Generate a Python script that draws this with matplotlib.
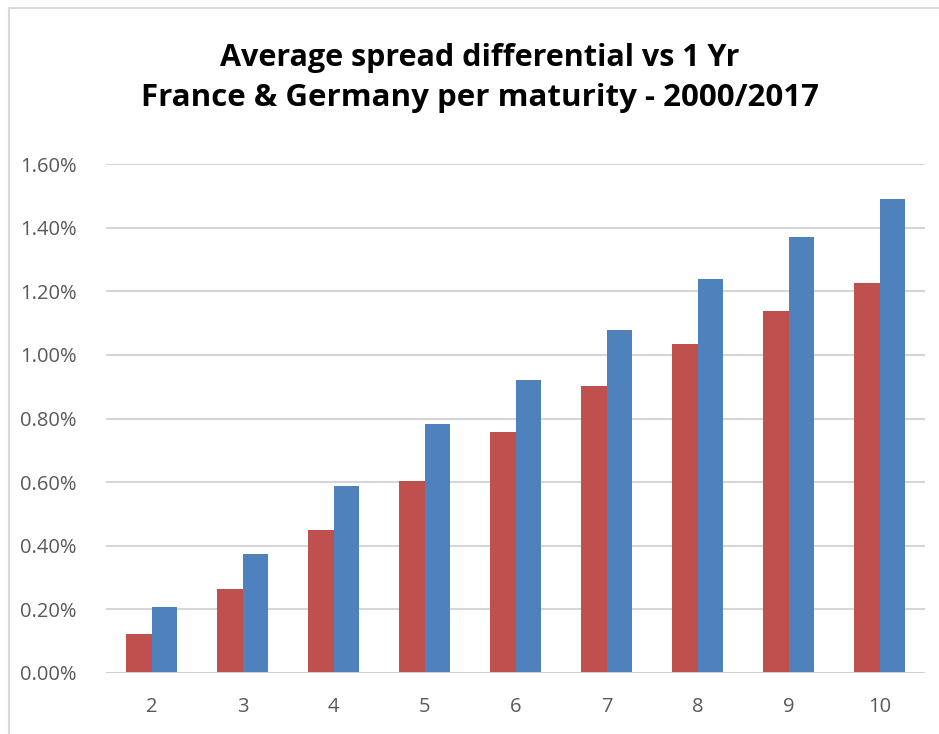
import matplotlib.pyplot as plt
import numpy as np
from matplotlib.patches import Rectangle

# Chart values (average spread vs 1 Yr, in %)
maturities = ["2", "3", "4", "5", "6", "7", "8", "9", "10"]
france = [0.122, 0.263, 0.449, 0.603, 0.758, 0.903, 1.034, 1.138, 1.225]
germany = [0.207, 0.373, 0.589, 0.782, 0.920, 1.079, 1.237, 1.371, 1.490]
yticks = [0.0, 0.2, 0.4, 0.6, 0.8, 1.0, 1.2, 1.4, 1.6]

plt.rcParams["font.family"] = ["Open Sans", "DejaVu Sans"]

fig = plt.figure(figsize=(9.39, 7.34), dpi=100)

# chart area border (left and top visible, rest cut off)
fig.patches.append(Rectangle((9 / 939, -0.05), 1.2, (734 - 8) / 734 + 0.05,
                             transform=fig.transFigure, fill=False,
                             edgecolor="#d9d9d9", linewidth=1.5))

ax = fig.add_axes([106 / 939, 61 / 734, 819 / 939, 509 / 734])

x = np.arange(len(maturities))
w = 0.285
ax.bar(x - w / 2, france, width=w, color="#c0504d", zorder=3)
ax.bar(x + w / 2, germany, width=w, color="#4f81bd", zorder=3)

ax.set_xlim(-0.5, len(maturities) - 0.5)
ax.set_ylim(0, 1.6)
ax.set_yticks(yticks)
ax.set_yticklabels([f"{v:.2f}%" for v in yticks])
ax.set_xticks(x)
ax.set_xticklabels(maturities)
ax.tick_params(length=0, labelsize=14.5, colors="#595959")
ax.tick_params(axis="y", pad=21)
ax.tick_params(axis="x", pad=17)

for y in yticks[1:]:
    ax.axhline(y, color="#d6d6d6", linewidth=1.5, zorder=1)
ax.axhline(0, color="#d0d0d0", linewidth=2.2, zorder=4)

for s in ax.spines.values():
    s.set_visible(False)

fig.text(480 / 939, 1 - 66 / 734, "Average spread differential vs 1 Yr",
         ha="center", va="baseline", fontsize=22, fontweight="bold")
fig.text(480 / 939, 1 - 106 / 734, "France & Germany per maturity - 2000/2017",
         ha="center", va="baseline", fontsize=22.5, fontweight="bold")

plt.savefig("out.png", dpi=100)
